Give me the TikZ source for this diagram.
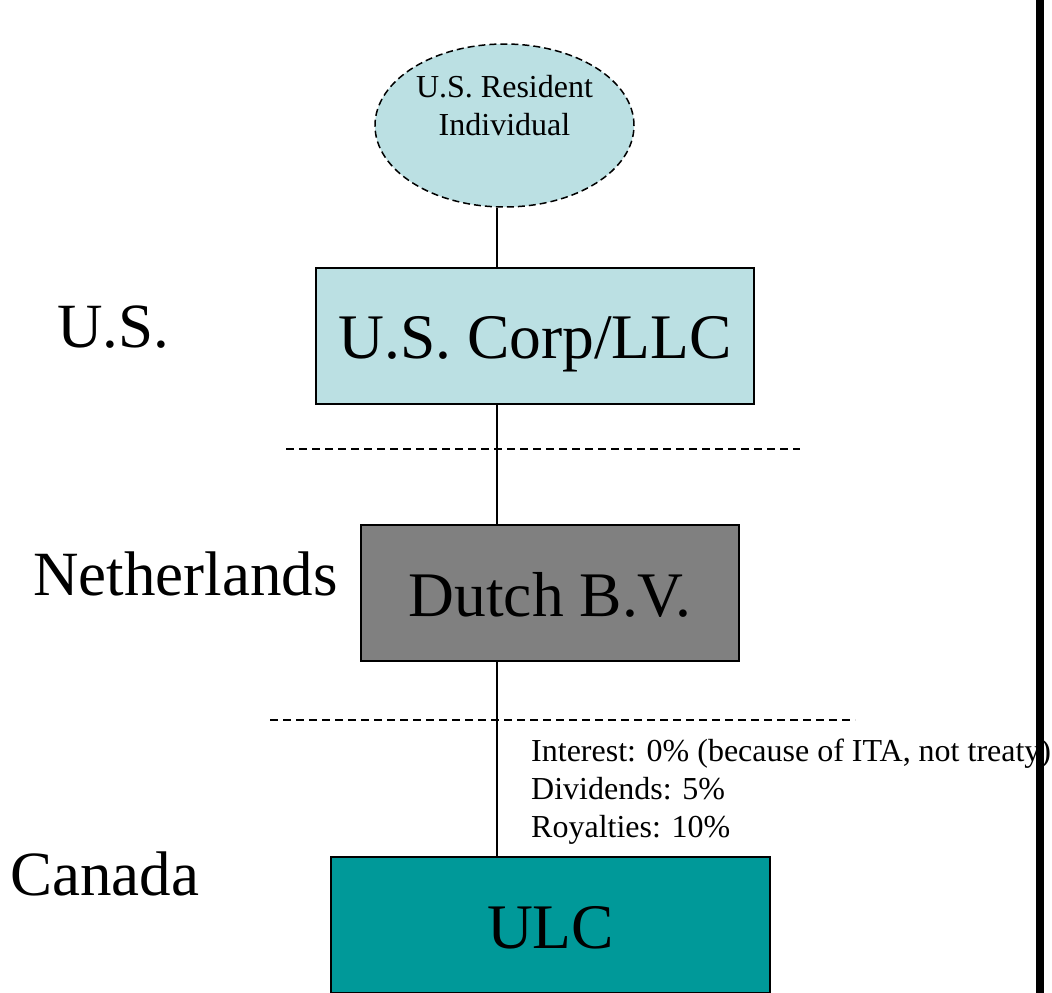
\documentclass[tikz,border=0pt]{standalone}
\usepackage{fontspec}
\setmainfont{Liberation Serif}
\usetikzlibrary{shapes.geometric}
\definecolor{paleblue}{HTML}{BBE0E3}
\definecolor{bvgray}{HTML}{808080}
\definecolor{ulcteal}{HTML}{009999}
\begin{document}
\begin{tikzpicture}[x=1pt,y=-1pt,
  entity/.style={draw=black, line width=1.5pt, inner sep=0pt,
    minimum height=136pt, text height=45pt, text depth=0pt,
    font=\fontsize{63.5}{70}\selectfont},
  country/.style={anchor=base west, inner sep=0pt, font=\fontsize{63}{70}\selectfont},
  link/.style={draw=black, line width=1.5pt},
  border/.style={draw=black, line width=1.5pt, dash pattern=on 8pt off 5pt},
  smalltext/.style={font=\fontsize{32}{38}\selectfont, inner sep=0pt}]
\clip (0,0) rectangle (1052,993);
\fill[white] (0,0) rectangle (1052,993);

% owner at the top
\node[ellipse, draw=black, line width=1.5pt, dash pattern=on 7pt off 4pt,
  fill=paleblue, minimum width=259pt, minimum height=163pt, inner sep=0pt,
  align=center, smalltext, text height=60pt, text depth=41pt]
  (indiv) at (504.5,125.5) {U.S. Resident\\Individual};

% entities of the chain
\node[entity, fill=paleblue, minimum width=438pt, text height=44pt] (corp) at (535,336) {U.S. Corp/LLC};
\node[entity, fill=bvgray, minimum width=378pt, text height=46pt] (bv) at (550,593) {Dutch B.V.};
\node[entity, fill=ulcteal, minimum width=439pt, text height=46pt] (ulc) at (550.5,925) {ULC};

% country labels
\node[country] (lus) at (57,347) {U.S.};
\node[country] (lnl) at (33,595) {Netherlands};
\node[country] (lca) at (10,895) {Canada};

% ownership line
\coordinate (trunk) at (497,0);
\draw[link] (indiv.south -| trunk) -- (corp.north -| trunk);
\draw[link] (corp.south -| trunk) -- (bv.north -| trunk);
\draw[link] (bv.south -| trunk) -- (ulc.north -| trunk);

% borders between countries
\coordinate (b1w) at (286,449); \coordinate (b1e) at (800,449);
\coordinate (b2w) at (270,720); \coordinate (b2e) at (855,720);
\draw[border] (b1w) -- (b1e);
\draw[border] (b2w) -- (b2e);

% withholding rates (baseline of the last line)
\node[smalltext, align=left, anchor=base west] (rates) at (531,837)
  {Interest: 0\% (because of ITA, not treaty)\\Dividends: 5\%\\Royalties: 10\%};

% right-hand rule
\coordinate (rtop) at (1040,0); \coordinate (rbot) at (1040,993);
\draw[line width=8pt] (rtop) -- (rbot);
\end{tikzpicture}
\end{document}
